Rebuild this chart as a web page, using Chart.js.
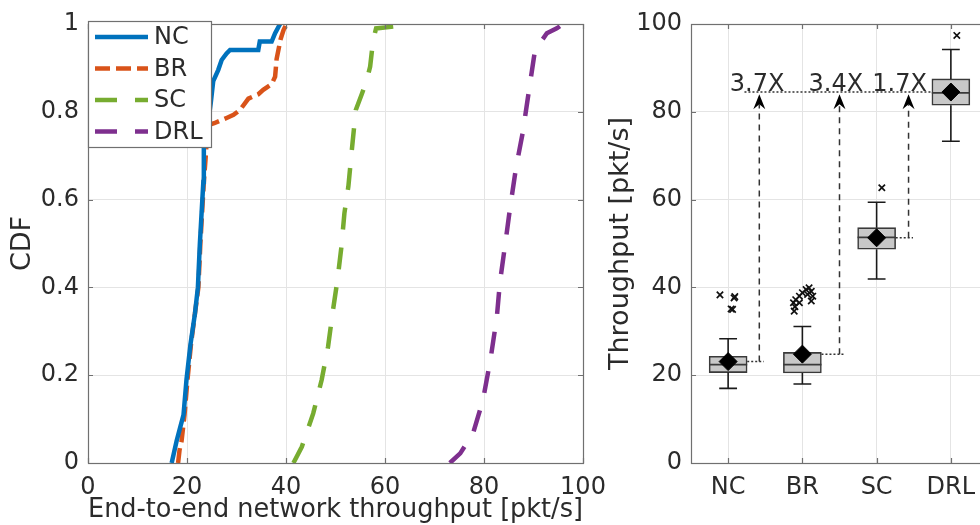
<!DOCTYPE html>
<html>
<head>
<meta charset="utf-8">
<script src="https://cdn.jsdelivr.net/npm/chart.js@4.4.1/dist/chart.umd.min.js"></script>
<style>
  html, body { margin: 0; padding: 0; background: #fff; overflow: hidden; width: 980px; height: 525px; }
  #cdf { position: absolute; left: 0; top: 0; }
  #box { position: absolute; left: 600px; top: 0; }
</style>
</head>
<body>
<canvas id="cdf" width="613" height="525"></canvas>
<canvas id="box" width="400" height="525"></canvas>
<script>
/* ── CDF panel data (throughput in pkt/s, cumulative fraction) ── */
const cdfXTicks = [0, 20, 40, 60, 80, 100];
const cdfYTicks = [0, 0.2, 0.4, 0.6, 0.8, 1];

const ncThroughput = [16.9, 17.3, 17.9, 18.6, 19.3, 19.9, 20.7, 21.6, 22.2, 22.6, 23.0, 23.3, 23.4, 24.1, 24.8, 25.3, 26.3, 27.0, 28.0, 28.7, 34.4, 34.7, 37.1, 37.8, 38.8];
const ncCdf = [0, 0.02, 0.05, 0.08, 0.11, 0.19, 0.27, 0.34, 0.40, 0.50, 0.58, 0.64, 0.72, 0.76, 0.82, 0.87, 0.895, 0.918, 0.933, 0.941, 0.941, 0.96, 0.96, 0.979, 1.0];

const brThroughput = [18.2, 18.5, 18.9, 19.5, 20.1, 20.8, 21.6, 22.3, 22.7, 23.1, 23.4, 23.8, 24.0, 24.3, 25.5, 28.0, 29.4, 30.7, 32.4, 34.4, 35.4, 37.1, 37.8, 38.1, 38.9, 39.5, 40.1];
const brCdf = [0, 0.03, 0.05, 0.11, 0.19, 0.27, 0.34, 0.40, 0.50, 0.58, 0.64, 0.70, 0.74, 0.77, 0.774, 0.786, 0.793, 0.804, 0.83, 0.84, 0.85, 0.863, 0.88, 0.92, 0.965, 0.986, 1.0];

const scThroughput = [41.5, 43.2, 45.5, 47.2, 48.5, 49.4, 50.4, 51.2, 51.8, 52.6, 53.3, 54.1, 55.3, 56.3, 57.0, 57.6, 58.2, 62.5, 63.0];
const scCdf = [0, 0.037, 0.113, 0.189, 0.265, 0.341, 0.417, 0.493, 0.569, 0.63, 0.713, 0.804, 0.84, 0.872, 0.903, 0.963, 0.99, 0.995, 1.0];

const drlThroughput = [73.1, 75.2, 77.8, 79.8, 81.3, 82.6, 83.2, 84.4, 85.3, 86.5, 87.8, 89.0, 90.3, 92.7, 94.7, 96.0];
const drlCdf = [0, 0.022, 0.068, 0.144, 0.235, 0.333, 0.41, 0.508, 0.584, 0.675, 0.751, 0.842, 0.94, 0.979, 0.99, 1.0];

/* ── Box plot panel data ── */
const boxCategories = ['NC', 'BR', 'SC', 'DRL'];
const boxYTicks = [0, 20, 40, 60, 80, 100];
const whiskerLow = [17.0, 18.0, 41.9, 73.3];
const quartile1 = [20.6, 20.5, 48.7, 81.5];
const medians = [22.4, 22.4, 51.4, 84.3];
const quartile3 = [24.3, 25.2, 53.6, 87.5];
const whiskerHigh = [28.3, 31.1, 59.4, 94.2];
const means = [23.1, 24.8, 51.3, 84.5];
// outliers, x in category units (with the plot's jitter)
const outlierX = [0.89, 1.08, 1.09, 1.04, 1.06, 1.89, 1.88, 1.91, 1.96, 2.0, 2.05, 2.09, 2.12, 2.07, 2.14, 2.12, 1.96, 1.9, 3.07, 4.08];
const outlierY = [38.3, 37.6, 37.9, 35.1, 35.0, 34.6, 36.5, 37.2, 38.0, 38.8, 39.5, 39.9, 39.1, 38.4, 38.0, 36.9, 36.5, 35.6, 62.7, 97.4];

// gain annotations (DRL mean vs NC / BR / SC)
const gainLabels = ['3.7X', '3.4X', '1.7X'];
const gainArrowX = [1.42, 2.5, 3.43];
const gainLabelX = [1.39, 2.45, 3.31];
const gainLabelY = 86.1;
const gainArrowTip = 84;
const gainLineStart = 1.22;

/* ── shared style ── */
const FONT = "'DejaVu Sans', sans-serif";
const TEXT = '#2b2b2b';
const GRID = '#e4e4e4';
const AXIS = '#707070';
const BOX_HALF = 0.257;
const CAP_HALF = 0.12;

Chart.defaults.font.family = FONT;
Chart.defaults.color = TEXT;

function toPoints(xs, ys) {
  return xs.map((x, i) => ({ x, y: ys[i] }));
}

function fixedTicks(values) {
  return (scale) => { scale.ticks = values.map((v) => ({ value: v })); };
}

// plain number labels: 0, 0.2, ..., 1
const plainNumber = (v) => String(+Number(v).toFixed(2));

// axes box with inward tick marks
const framePlugin = {
  id: 'frame',
  afterDatasetsDraw(chart) {
    const { ctx, chartArea: a, scales } = chart;
    ctx.save();
    ctx.strokeStyle = AXIS;
    ctx.lineWidth = 1.2;
    ctx.setLineDash([]);
    ctx.strokeRect(a.left + 0.5, a.top + 0.5, a.right - a.left, a.bottom - a.top);
    ctx.beginPath();
    scales.x.ticks.forEach((t) => {
      const px = Math.round(scales.x.getPixelForValue(t.value)) + 0.5;
      ctx.moveTo(px, a.bottom); ctx.lineTo(px, a.bottom - 5);
      ctx.moveTo(px, a.top); ctx.lineTo(px, a.top + 5);
    });
    scales.y.ticks.forEach((t) => {
      const py = Math.round(scales.y.getPixelForValue(t.value)) + 0.5;
      ctx.moveTo(a.left, py); ctx.lineTo(a.left + 5, py);
      ctx.moveTo(a.right, py); ctx.lineTo(a.right - 5, py);
    });
    ctx.stroke();
    ctx.restore();
  },
};

// legend box in the upper left of the CDF axes
const cdfLegendPlugin = {
  id: 'cdfLegend',
  afterDatasetsDraw(chart) {
    const { ctx, chartArea } = chart;
    const x0 = chartArea.left;
    const y0 = chartArea.top - 3;
    ctx.save();
    ctx.fillStyle = '#fff';
    ctx.fillRect(x0, y0, 123, 126);
    ctx.strokeStyle = AXIS;
    ctx.lineWidth = 1.2;
    ctx.strokeRect(x0 + 0.5, y0 + 0.5, 123, 126);
    ctx.font = '24px ' + FONT;
    ctx.textBaseline = 'middle';
    chart.data.datasets.forEach((ds, i) => {
      const y = y0 + 16 + i * 31.5;
      ctx.beginPath();
      ctx.setLineDash(ds.borderDash || []);
      ctx.lineWidth = ds.borderWidth;
      ctx.strokeStyle = ds.borderColor;
      ctx.moveTo(x0 + 7, y);
      ctx.lineTo(x0 + 60, y);
      ctx.stroke();
      ctx.setLineDash([]);
      ctx.fillStyle = TEXT;
      ctx.fillText(ds.label, x0 + 66, y + 1);
    });
    ctx.restore();
  },
};

function cdfDataset(label, xs, ys, color, dash) {
  return {
    label,
    data: toPoints(xs, ys),
    borderColor: color,
    borderWidth: 4.5,
    borderDash: dash,
    borderCapStyle: 'butt',
    pointRadius: 0,
    tension: 0,
    fill: false,
  };
}

/* ──────────────────────────────────────────────
   1. CDF of end-to-end throughput
   ────────────────────────────────────────────── */
new Chart(document.getElementById('cdf'), {
  type: 'line',
  data: {
    datasets: [
      cdfDataset('NC', ncThroughput, ncCdf, '#0072BD', []),
      cdfDataset('BR', brThroughput, brCdf, '#D95319', [15, 6]),
      cdfDataset('SC', scThroughput, scCdf, '#77AC30', [22, 18]),
      cdfDataset('DRL', drlThroughput, drlCdf, '#7E2F8E', [22, 18]),
    ],
  },
  options: {
    responsive: false,
    animation: false,
    layout: { padding: { top: 24, right: 30, bottom: 0, left: 0 } },
    plugins: { legend: { display: false }, tooltip: { enabled: false } },
    scales: {
      x: {
        type: 'linear',
        min: 0,
        max: 100,
        afterBuildTicks: fixedTicks(cdfXTicks),
        afterFit(s) { s.height = 62; s.paddingLeft = 0; s.paddingRight = 0; },
        grid: { color: GRID, drawTicks: false },
        border: { display: false },
        ticks: { font: { size: 24 }, padding: 10, maxRotation: 0, color: TEXT, callback: plainNumber },
        title: {
          display: true,
          text: 'End-to-end network throughput [pkt/s]',
          font: { size: 27, lineHeight: 1 },
          padding: { top: 0, bottom: 1.5 },
          color: TEXT,
        },
      },
      y: {
        type: 'linear',
        min: 0,
        max: 1,
        afterBuildTicks: fixedTicks(cdfYTicks),
        afterFit(s) { s.width = 88; s.paddingTop = 0; s.paddingBottom = 0; },
        grid: { color: GRID, drawTicks: false },
        border: { display: false },
        ticks: { font: { size: 24 }, padding: 9, color: TEXT, callback: plainNumber },
        title: {
          display: true,
          text: 'CDF',
          font: { size: 27, lineHeight: 1 },
          padding: { top: 9.5, bottom: 0 },
          color: TEXT,
        },
      },
    },
  },
  plugins: [framePlugin, cdfLegendPlugin],
});

/* ──────────────────────────────────────────────
   2. Box plot of throughput per scheme
   ────────────────────────────────────────────── */
// whiskers and medians, drawn right after the boxes
const boxPartsPlugin = {
  id: 'boxParts',
  afterDatasetDraw(chart, args) {
    if (args.index !== 0) return;
    const { ctx, scales: { x, y } } = chart;
    ctx.save();
    ctx.setLineDash([]);
    ctx.lineWidth = 1.6;
    ctx.strokeStyle = '#1a1a1a';
    ctx.beginPath();
    boxCategories.forEach((c, i) => {
      const cx = x.getPixelForValue(i + 1);
      const capL = x.getPixelForValue(i + 1 - CAP_HALF);
      const capR = x.getPixelForValue(i + 1 + CAP_HALF);
      ctx.moveTo(cx, y.getPixelForValue(quartile3[i]));
      ctx.lineTo(cx, y.getPixelForValue(whiskerHigh[i]));
      ctx.moveTo(capL, y.getPixelForValue(whiskerHigh[i]));
      ctx.lineTo(capR, y.getPixelForValue(whiskerHigh[i]));
      ctx.moveTo(cx, y.getPixelForValue(quartile1[i]));
      ctx.lineTo(cx, y.getPixelForValue(whiskerLow[i]));
      ctx.moveTo(capL, y.getPixelForValue(whiskerLow[i]));
      ctx.lineTo(capR, y.getPixelForValue(whiskerLow[i]));
    });
    ctx.stroke();
    ctx.strokeStyle = '#3a3a3a';
    ctx.beginPath();
    boxCategories.forEach((c, i) => {
      const my = y.getPixelForValue(medians[i]);
      ctx.moveTo(x.getPixelForValue(i + 1 - BOX_HALF), my);
      ctx.lineTo(x.getPixelForValue(i + 1 + BOX_HALF), my);
    });
    ctx.stroke();
    ctx.restore();
  },
};

// dashed arrows + dotted guides + gain labels
const gainPlugin = {
  id: 'gains',
  afterDatasetsDraw(chart) {
    const { ctx, scales: { x, y } } = chart;
    const drl = means.length - 1;
    ctx.save();
    ctx.strokeStyle = '#333';
    ctx.lineWidth = 1.5;

    // dotted level of the DRL mean
    ctx.setLineDash([2, 2]);
    ctx.beginPath();
    ctx.moveTo(x.getPixelForValue(gainLineStart), y.getPixelForValue(means[drl]));
    ctx.lineTo(x.getPixelForValue(drl + 1 - BOX_HALF), y.getPixelForValue(means[drl]));
    ctx.stroke();

    const tipY = y.getPixelForValue(gainArrowTip);
    gainLabels.forEach((label, i) => {
      const ax = x.getPixelForValue(gainArrowX[i]);
      const baseY = y.getPixelForValue(means[i]);

      // dotted from box mean to arrow foot
      ctx.setLineDash([2, 2]);
      ctx.beginPath();
      ctx.moveTo(x.getPixelForValue(i + 1 + BOX_HALF), baseY);
      ctx.lineTo(x.getPixelForValue(gainArrowX[i] + 0.06), baseY);
      ctx.stroke();

      // dashed shaft
      ctx.setLineDash([6, 5]);
      ctx.beginPath();
      ctx.moveTo(ax, baseY);
      ctx.lineTo(ax, tipY + 10);
      ctx.stroke();

      // arrow head
      ctx.setLineDash([]);
      ctx.fillStyle = '#000';
      ctx.beginPath();
      ctx.moveTo(ax, tipY);
      ctx.lineTo(ax + 6, tipY + 15);
      ctx.lineTo(ax, tipY + 10);
      ctx.lineTo(ax - 6, tipY + 15);
      ctx.closePath();
      ctx.fill();

      ctx.fillStyle = TEXT;
      ctx.font = '24px ' + FONT;
      ctx.textAlign = 'center';
      ctx.textBaseline = 'middle';
      ctx.fillText(label, x.getPixelForValue(gainLabelX[i]), y.getPixelForValue(gainLabelY));
    });
    ctx.restore();
  },
};

new Chart(document.getElementById('box'), {
  type: 'bar',
  data: {
    datasets: [
      {
        type: 'bar',
        order: 2,
        data: boxCategories.map((c, i) => ({ x: i + 1, y: [quartile1[i], quartile3[i]] })),
        backgroundColor: '#c8c8c8',
        borderColor: '#3a3a3a',
        borderWidth: 1.6,
        borderSkipped: false,
        barThickness: 38,
      },
      {
        type: 'scatter',
        order: 0,
        data: boxCategories.map((c, i) => ({ x: i + 1, y: means[i] })),
        pointStyle: 'rectRot',
        pointRadius: 9,
        backgroundColor: '#000',
        borderColor: '#000',
        borderWidth: 1,
      },
      {
        type: 'scatter',
        order: 1,
        data: toPoints(outlierX, outlierY),
        pointStyle: 'crossRot',
        pointRadius: 4.5,
        borderColor: '#111',
        borderWidth: 1.7,
      },
    ],
  },
  options: {
    responsive: false,
    animation: false,
    layout: { padding: { top: 24, right: 12, bottom: 0, left: 0 } },
    plugins: { legend: { display: false }, tooltip: { enabled: false } },
    scales: {
      x: {
        type: 'linear',
        min: 0.5,
        max: 4.5,
        offset: false,
        afterBuildTicks: fixedTicks(boxCategories.map((c, i) => i + 1)),
        afterFit(s) { s.height = 62; s.paddingLeft = 0; s.paddingRight = 0; },
        grid: { color: GRID, drawTicks: false, offset: false },
        border: { display: false },
        ticks: {
          font: { size: 24 },
          padding: 10,
          maxRotation: 0,
          color: TEXT,
          callback: (v) => boxCategories[v - 1],
        },
      },
      y: {
        type: 'linear',
        min: 0,
        max: 100,
        afterBuildTicks: fixedTicks(boxYTicks),
        afterFit(s) { s.width = 91; s.paddingTop = 0; s.paddingBottom = 0; },
        grid: { color: GRID, drawTicks: false },
        border: { display: false },
        ticks: { font: { size: 24 }, padding: 9, color: TEXT, callback: plainNumber },
        title: {
          display: true,
          text: 'Throughput [pkt/s]',
          font: { size: 27, lineHeight: 1 },
          padding: { top: 7, bottom: 0 },
          color: TEXT,
        },
      },
    },
  },
  plugins: [framePlugin, boxPartsPlugin, gainPlugin],
});
</script>
</body>
</html>
